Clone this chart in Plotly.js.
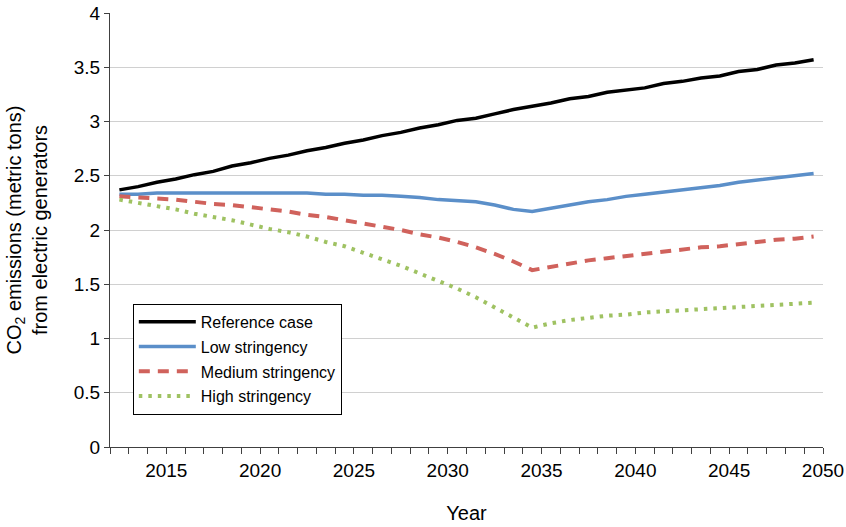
<!DOCTYPE html>
<html>
<head>
<meta charset="utf-8">
<script src="https://cdn.plot.ly/plotly-3.0.1.min.js"></script>
<style>html,body{margin:0;padding:0;background:#fff;}#chart{width:846px;height:527px;}</style>
</head>
<body>
<div id="chart"></div>
<script>
// Years (points placed at the middle of each year interval)
var years = [2012.5,2013.5,2014.5,2015.5,2016.5,2017.5,2018.5,2019.5,2020.5,2021.5,
             2022.5,2023.5,2024.5,2025.5,2026.5,2027.5,2028.5,2029.5,2030.5,2031.5,
             2032.5,2033.5,2034.5,2035.5,2036.5,2037.5,2038.5,2039.5,2040.5,2041.5,
             2042.5,2043.5,2044.5,2045.5,2046.5,2047.5,2048.5,2049.5];

var referenceCase = [2.37,2.40,2.44,2.47,2.51,2.54,2.59,2.62,2.66,2.69,
                     2.73,2.76,2.80,2.83,2.87,2.90,2.94,2.97,3.01,3.03,
                     3.07,3.11,3.14,3.17,3.21,3.23,3.27,3.29,3.31,3.35,
                     3.37,3.40,3.42,3.46,3.48,3.52,3.54,3.57];

var lowStringency = [2.33,2.33,2.34,2.34,2.34,2.34,2.34,2.34,2.34,2.34,
                     2.34,2.33,2.33,2.32,2.32,2.31,2.30,2.28,2.27,2.26,
                     2.23,2.19,2.17,2.20,2.23,2.26,2.28,2.31,2.33,2.35,
                     2.37,2.39,2.41,2.44,2.46,2.48,2.50,2.52];

var mediumStringency = [2.31,2.30,2.29,2.28,2.26,2.24,2.23,2.21,2.19,2.17,
                        2.14,2.12,2.09,2.06,2.03,2.00,1.96,1.93,1.89,1.84,
                        1.78,1.71,1.63,1.66,1.69,1.72,1.74,1.76,1.78,1.80,
                        1.82,1.84,1.85,1.87,1.89,1.91,1.92,1.94];

var highStringency = [2.28,2.25,2.22,2.19,2.15,2.12,2.09,2.05,2.01,1.98,
                      1.94,1.89,1.85,1.79,1.73,1.67,1.60,1.53,1.46,1.38,
                      1.29,1.20,1.10,1.14,1.17,1.19,1.21,1.22,1.24,1.25,
                      1.26,1.27,1.28,1.29,1.30,1.31,1.32,1.33];

var xTickVals = [2015,2020,2025,2030,2035,2040,2045,2050];
var xTickText = ['2015','2020','2025','2030','2035','2040','2045','2050'];
var yTickVals = [0,0.5,1,1.5,2,2.5,3,3.5,4];
var yTickText = ['0','0.5','1','1.5','2','2.5','3','3.5','4'];

var FONT = 'Liberation Sans, Arial, Helvetica, sans-serif';

var traces = [
  {x: years, y: referenceCase, name: 'Reference case', legendgroup: 'a',
   mode: 'lines', line: {color: '#000000', width: 3.5}},
  {x: years, y: lowStringency, name: 'Low stringency', legendgroup: 'b',
   mode: 'lines', line: {color: '#5B8FC9', width: 3.5}},
  {x: years, y: mediumStringency, name: 'Medium stringency', legendgroup: 'c',
   mode: 'lines', line: {color: '#D0625C', width: 4, dash: '11px,8px'}},
  {x: years, y: highStringency, name: 'High stringency', legendgroup: 'd',
   mode: 'lines', line: {color: '#9FC262', width: 4, dash: '3.5px,6px'}}
];

var layout = {
  width: 846, height: 527,
  margin: {l: 110, r: 23, t: 13, b: 80},
  paper_bgcolor: '#ffffff', plot_bgcolor: '#ffffff',
  font: {family: FONT, size: 19, color: '#000000'},
  showlegend: true,
  hovermode: false,
  xaxis: {
    range: [2012, 2050], type: 'linear',
    tickmode: 'array', tickvals: xTickVals, ticktext: xTickText,
    ticks: 'outside', ticklen: 6, tickwidth: 1, tickcolor: '#404040',
    minor: {tickmode: 'linear', tick0: 2012, dtick: 1, ticks: 'outside', ticklen: 6, tickwidth: 1, tickcolor: '#404040', showgrid: false},
    showline: true, linecolor: '#404040', linewidth: 1,
    showgrid: false, zeroline: false,
    tickfont: {family: FONT, size: 19, color: '#000'},
    title: {text: 'Year', font: {family: FONT, size: 20, color: '#000'}, standoff: 26}
  },
  yaxis: {
    range: [0, 4],
    tickmode: 'array', tickvals: yTickVals, ticktext: yTickText,
    ticks: 'outside', ticklen: 5, tickwidth: 1, tickcolor: '#404040',
    showline: true, linecolor: '#404040', linewidth: 1,
    showgrid: true, gridcolor: '#D0D0D0', gridwidth: 1, zeroline: false,
    tickfont: {family: FONT, size: 19, color: '#000'},
    title: {text: 'CO<sub>2</sub> emissions (metric tons)<br>from electric generators',
            font: {family: FONT, size: 20, color: '#000'}, standoff: 20}
  },
  legend: {
    x: 0.032, y: 0.33, xanchor: 'left', yanchor: 'top',
    bgcolor: '#ffffff', bordercolor: '#000000', borderwidth: 1,
    font: {family: FONT, size: 16, color: '#000'},
    tracegroupgap: 1, itemwidth: 57
  }
};

Plotly.newPlot('chart', traces, layout, {staticPlot: true, displayModeBar: false});
</script>
</body>
</html>
